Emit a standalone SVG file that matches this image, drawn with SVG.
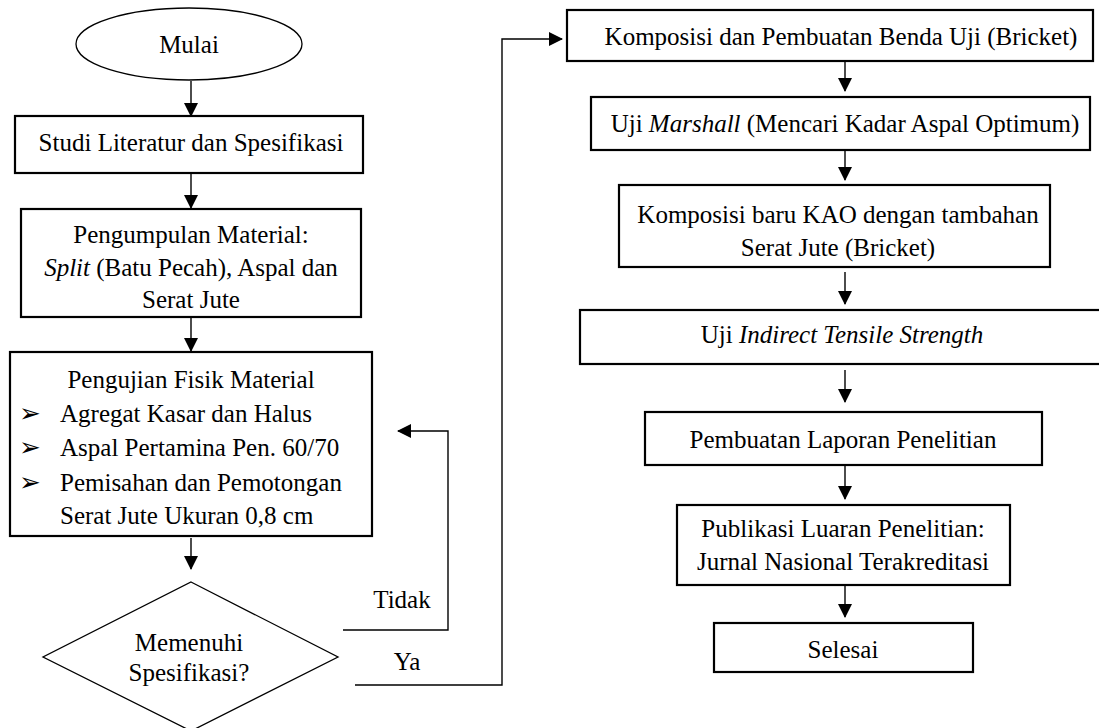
<svg xmlns="http://www.w3.org/2000/svg" width="1099" height="728" viewBox="0 0 1099 728">
<style>
.box{fill:#fff;stroke:#000;stroke-width:2.2}
.shape{fill:#fff;stroke:#000;stroke-width:1.3}
.t{font-family:'Liberation Serif','Times New Roman',Times,serif;font-size:25px;fill:#000}
.c{text-anchor:middle}
.i{font-style:italic}
.b{font-family:'DejaVu Sans',sans-serif;font-size:26px;fill:#000}
.ln{fill:none;stroke:#000;stroke-width:1.4}
</style>
<defs>
<marker id="ah" markerUnits="userSpaceOnUse" markerWidth="14" markerHeight="14" viewBox="0 0 14 14" refX="13" refY="7" orient="auto">
<path d="M0,0 L14,7 L0,14 Z" fill="#000"/>
</marker>
</defs>
<rect width="1099" height="728" fill="#fff"/>

<g id="connectors">
<line class="ln" x1="191" y1="81" x2="191" y2="116" marker-end="url(#ah)"/>
<line class="ln" x1="191" y1="174" x2="191" y2="208" marker-end="url(#ah)"/>
<line class="ln" x1="191" y1="318" x2="191" y2="351" marker-end="url(#ah)"/>
<line class="ln" x1="191" y1="538" x2="191" y2="569" marker-end="url(#ah)"/>
<polyline class="ln" points="343,630 448,630 448,431 398,431" marker-end="url(#ah)"/>
<polyline class="ln" points="355,685 502,685 502,39 562,39" marker-end="url(#ah)"/>
<line class="ln" x1="845" y1="62" x2="845" y2="91" marker-end="url(#ah)"/>
<line class="ln" x1="845" y1="150" x2="845" y2="180" marker-end="url(#ah)"/>
<line class="ln" x1="845" y1="272" x2="845" y2="304" marker-end="url(#ah)"/>
<line class="ln" x1="845" y1="370" x2="845" y2="402" marker-end="url(#ah)"/>
<line class="ln" x1="845" y1="466" x2="845" y2="499" marker-end="url(#ah)"/>
<line class="ln" x1="845" y1="586" x2="845" y2="617" marker-end="url(#ah)"/>
<text class="t c" x="402" y="608">Tidak</text>
<text class="t c" x="407" y="670">Ya</text>
</g>

<g id="mulai">
<ellipse class="shape" cx="189" cy="44" rx="113" ry="36"/>
<text class="t c" x="189" y="53">Mulai</text>
</g>

<g id="studi">
<rect class="box" x="15" y="116" width="348" height="57"/>
<text class="t c" x="191" y="151">Studi Literatur dan Spesifikasi</text>
</g>

<g id="pengumpulan">
<rect class="box" x="21" y="209" width="340" height="108"/>
<text class="t c" x="191" y="243">Pengumpulan Material:</text>
<text class="t c" x="191" y="276"><tspan class="i">Split</tspan> (Batu Pecah), Aspal dan</text>
<text class="t c" x="191" y="308">Serat Jute</text>
</g>

<g id="pengujian">
<rect class="box" x="10" y="352" width="362" height="184"/>
<text class="t c" x="191" y="388">Pengujian Fisik Material</text>
<text class="b" x="19" y="422">➢</text>
<text class="t" x="60" y="422">Agregat Kasar dan Halus</text>
<text class="b" x="19" y="456">➢</text>
<text class="t" x="60" y="456">Aspal Pertamina Pen. 60/70</text>
<text class="b" x="19" y="491">➢</text>
<text class="t" x="60" y="491">Pemisahan dan Pemotongan</text>
<text class="t" x="60" y="524">Serat Jute Ukuran 0,8 cm</text>
</g>

<g id="memenuhi">
<polygon class="shape" points="191,582 338,657 191,731 43,657"/>
<text class="t c" x="189" y="651">Memenuhi</text>
<text class="t c" x="189" y="681">Spesifikasi?</text>
</g>

<g id="komposisi">
<rect class="box" x="567" y="10" width="526" height="51"/>
<text class="t c" x="841" y="45">Komposisi dan Pembuatan Benda Uji (Bricket)</text>
</g>

<g id="marshall">
<rect class="box" x="591" y="97" width="499" height="53"/>
<text class="t c" x="845" y="132">Uji <tspan class="i">Marshall</tspan> (Mencari Kadar Aspal Optimum)</text>
</g>

<g id="kao">
<rect class="box" x="619" y="185" width="431" height="82"/>
<text class="t c" x="838" y="223">Komposisi baru KAO dengan tambahan</text>
<text class="t c" x="838" y="256">Serat Jute (Bricket)</text>
</g>

<g id="its">
<rect class="box" x="580" y="310" width="525" height="54"/>
<text class="t c" x="842" y="343">Uji <tspan class="i">Indirect Tensile Strength</tspan></text>
</g>

<g id="laporan">
<rect class="box" x="645" y="412" width="397" height="53"/>
<text class="t c" x="843" y="448">Pembuatan Laporan Penelitian</text>
</g>

<g id="publikasi">
<rect class="box" x="677" y="505" width="333" height="80"/>
<text class="t c" x="843" y="537">Publikasi Luaran Penelitian:</text>
<text class="t c" x="843" y="570">Jurnal Nasional Terakreditasi</text>
</g>

<g id="selesai">
<rect class="box" x="714" y="623" width="259" height="49"/>
<text class="t c" x="843" y="658">Selesai</text>
</g>
</svg>
